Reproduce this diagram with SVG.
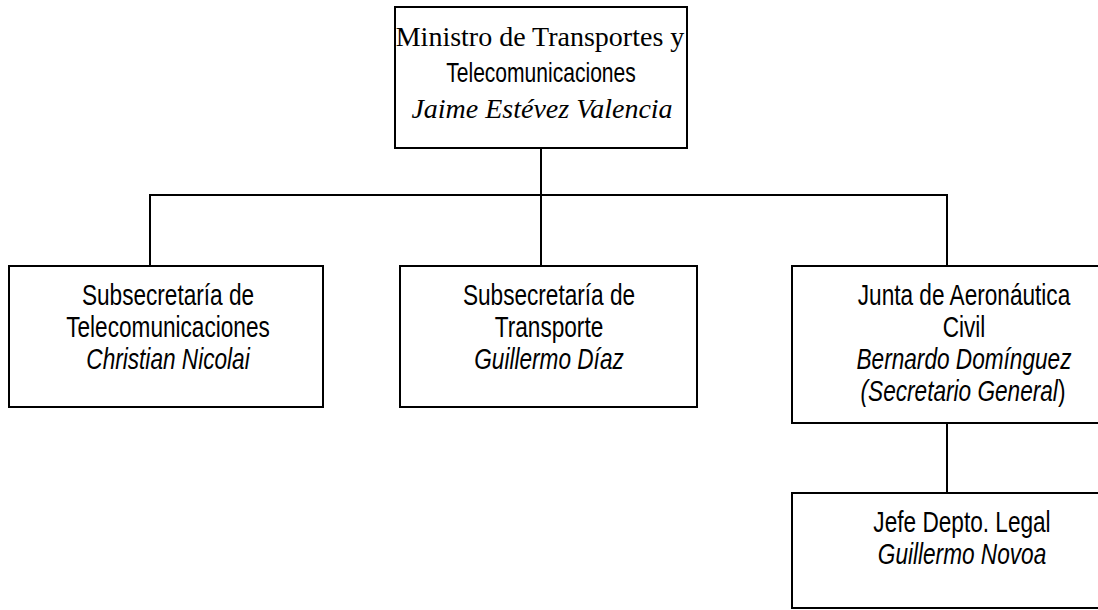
<svg xmlns="http://www.w3.org/2000/svg" width="1098" height="610" viewBox="0 0 1098 610">
<style>
.box{fill:#fff;stroke:#000;stroke-width:2}
.conn{fill:none;stroke:#000;stroke-width:2}
.serif{font-family:"Liberation Serif","Times New Roman",serif;font-size:28px;fill:#000;text-anchor:middle}
.sans{font-family:"Liberation Sans",Arial,sans-serif;font-size:29px;fill:#000;text-anchor:middle}
.it{font-style:italic}
</style>
<rect width="1098" height="610" fill="#fff"/>
<g id="connectors">
<path class="conn" d="M541,148 V266 M150,266 V195 H947 V266 M947,423 V493"/>
</g>
<g id="ministro">
<rect class="box" x="395" y="7" width="292" height="141"/>
<text class="serif" x="540" y="46">Ministro de Transportes y</text>
<text class="sans" transform="translate(541,82) scale(0.78,1)" style="font-size:27px">Telecomunicaciones</text>
<text class="serif it" x="542" y="118">Jaime Estévez Valencia</text>
</g>
<g id="subtel">
<rect class="box" x="9" y="266" width="314" height="141"/>
<text class="sans" transform="translate(168,305) scale(0.78,1)">Subsecretaría de</text>
<text class="sans" transform="translate(168,337) scale(0.78,1)">Telecomunicaciones</text>
<text class="sans it" transform="translate(168,369) scale(0.78,1)">Christian Nicolai</text>
</g>
<g id="subtrans">
<rect class="box" x="400" y="266" width="297" height="141"/>
<text class="sans" transform="translate(549,305) scale(0.78,1)">Subsecretaría de</text>
<text class="sans" transform="translate(549,337) scale(0.78,1)">Transporte</text>
<text class="sans it" transform="translate(549,369) scale(0.78,1)">Guillermo Díaz</text>
</g>
<g id="junta">
<rect class="box" x="792" y="266" width="350" height="157"/>
<text class="sans" transform="translate(964,305) scale(0.78,1)">Junta de Aeronáutica</text>
<text class="sans" transform="translate(964,337) scale(0.78,1)">Civil</text>
<text class="sans it" transform="translate(964,369) scale(0.78,1)">Bernardo Domínguez</text>
<text class="sans" transform="translate(963,401) scale(0.78,1)"><tspan class="it">(Secretario General</tspan>)</text>
</g>
<g id="legal">
<rect class="box" x="792" y="493" width="350" height="115"/>
<text class="sans" transform="translate(962,532) scale(0.78,1)">Jefe Depto. Legal</text>
<text class="sans it" transform="translate(962,564) scale(0.78,1)">Guillermo Novoa</text>
</g>
</svg>
